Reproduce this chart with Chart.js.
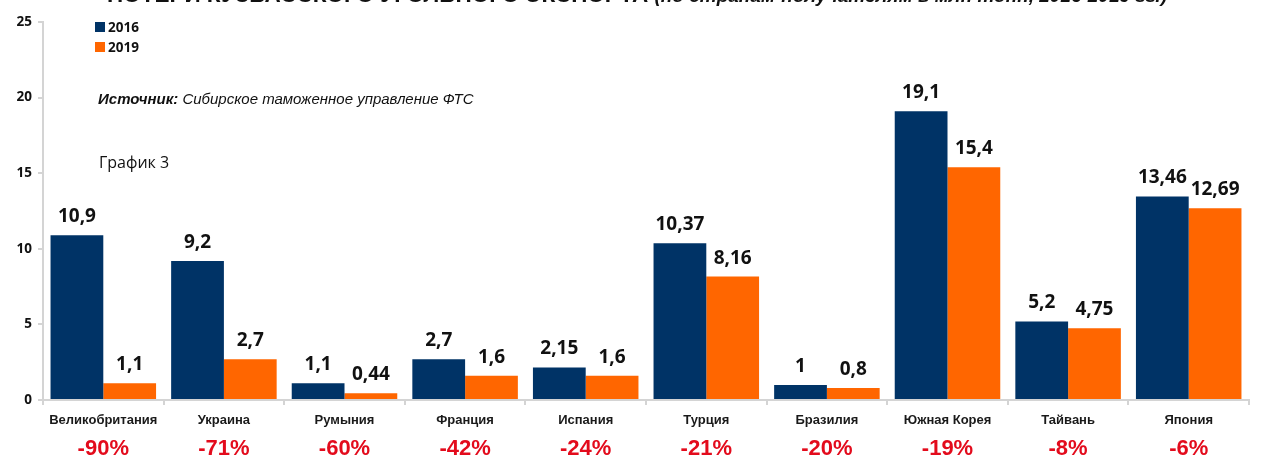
<!DOCTYPE html>
<html>
<head>
<meta charset="utf-8">
<script src="https://cdn.jsdelivr.net/npm/chart.js@4.4.1/dist/chart.umd.min.js"></script>
<style>
  html, body { margin: 0; padding: 0; background: #ffffff; }
  #wrap { width: 1285px; height: 463px; position: relative; }
</style>
</head>
<body>
<div id="wrap"><canvas id="c" width="1285" height="463"></canvas></div>
<script>
const categories = ["Великобритания", "Украина", "Румыния", "Франция", "Испания", "Турция", "Бразилия", "Южная Корея", "Тайвань", "Япония"];
const values2016 = [10.9, 9.2, 1.1, 2.7, 2.15, 10.37, 1, 19.1, 5.2, 13.46];
const values2019 = [1.1, 2.7, 0.44, 1.6, 1.6, 8.16, 0.8, 15.4, 4.75, 12.69];
const changePct = [-90, -71, -60, -42, -24, -21, -20, -19, -8, -6];
const seriesNames = ["2016", "2019"];
const yTicks = [0, 5, 10, 15, 20, 25];

const titleMain = "ПОТЕРИ КУЗБАССКОГО УГОЛЬНОГО ЭКСПОРТА ";
const titleSub = "(по странам-получателям в млн тонн, 2016-2019 гг.)";
const sourceBold = "Источник:";
const sourceText = " Сибирское таможенное управление ФТС";
const chartNote = "График 3";

const NAVY = "#003366";
const ORANGE = "#FF6600";
const RED = "#E30B1C";
const AXIS = "#D4D4D4";

const fmt = v => String(v).replace('.', ',');

const overlay = {
  id: 'overlay',
  afterDatasetsDraw(chart) {
    const ctx = chart.ctx;
    ctx.save();
    // data labels
    ctx.fillStyle = "#111111";
    ctx.font = "bold 19px 'Open Sans'";
    ctx.textAlign = "center";
    ctx.textBaseline = "alphabetic";
    chart.data.datasets.forEach((ds, di) => {
      const meta = chart.getDatasetMeta(di);
      meta.data.forEach((bar, i) => {
        ctx.fillText(fmt(ds.data[i]), bar.x, bar.y - 13);
      });
    });
    // percent labels
    const xs = chart.scales.x;
    ctx.fillStyle = RED;
    ctx.font = "bold 22px 'Liberation Sans'";
    changePct.forEach((p, i) => {
      ctx.fillText(p + "%", xs.getPixelForTick(i), 455);
    });
    // legend
    ctx.textAlign = "left";
    ctx.textBaseline = "middle";
    ctx.font = "bold 13.5px 'Open Sans'";
    chart.data.datasets.forEach((ds, di) => {
      const cy = 27 + di * 20;
      ctx.fillStyle = ds.backgroundColor;
      ctx.fillRect(95, cy - 5, 10, 10);
      ctx.fillStyle = "#111111";
      ctx.fillText(ds.label, 108, cy + 1);
    });
    // source
    ctx.textBaseline = "alphabetic";
    ctx.fillStyle = "#111111";
    ctx.font = "italic bold 15px 'Liberation Sans'";
    ctx.fillText(sourceBold, 98, 104);
    const w1 = ctx.measureText(sourceBold).width;
    ctx.font = "italic 15px 'Liberation Sans'";
    ctx.fillText(sourceText, 98 + w1, 104);
    // note
    ctx.font = "16px 'Open Sans'";
    ctx.fillText(chartNote, 99, 168);
    // cut-off title
    ctx.font = "bold 22.5px 'Liberation Sans'";
    ctx.fillText(titleMain, 107, 2);
    const tw = ctx.measureText(titleMain).width;
    ctx.font = "italic bold 19px 'Liberation Sans'";
    ctx.fillText(titleSub, 107 + tw, 2);
    ctx.restore();
  }
};

new Chart(document.getElementById('c'), {
  type: 'bar',
  data: {
    labels: categories,
    datasets: [
      { label: seriesNames[0], data: values2016, backgroundColor: NAVY, borderWidth: 0 },
      { label: seriesNames[1], data: values2019, backgroundColor: ORANGE, borderWidth: 0 }
    ]
  },
  options: {
    responsive: false,
    animation: false,
    devicePixelRatio: 1,
    layout: { padding: { top: 22, right: 36, left: 0, bottom: 0 } },
    datasets: { bar: { categoryPercentage: 0.875, barPercentage: 1.0 } },
    plugins: { legend: { display: false }, tooltip: { enabled: false }, title: { display: false } },
    scales: {
      x: {
        offset: true,
        grid: { offset: true, drawOnChartArea: false, drawTicks: true, tickLength: 5, color: AXIS, lineWidth: 2 },
        border: { display: true, color: AXIS, width: 2 },
        ticks: { color: "#1a1a1a", font: { family: "'Liberation Sans'", size: 13, weight: 'bold' }, padding: 8, maxRotation: 0, autoSkip: false },
        afterFit(scale) { scale.height = 63; }
      },
      y: {
        min: 0, max: 25,
        afterBuildTicks(scale) { scale.ticks = yTicks.map(v => ({ value: v })); },
        grid: { drawOnChartArea: false, drawTicks: true, tickLength: 5, color: AXIS, lineWidth: 2 },
        border: { display: true, color: AXIS, width: 2 },
        ticks: { color: "#111111", font: { family: "'Open Sans'", size: 13.5, weight: 'bold' }, padding: 6 },
        afterFit(scale) { scale.width = 43; }
      }
    }
  },
  plugins: [overlay]
});
</script>
</body>
</html>
